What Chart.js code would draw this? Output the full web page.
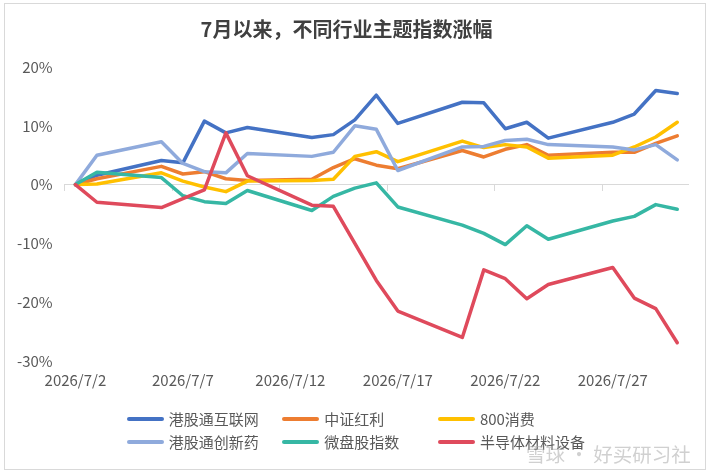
<!DOCTYPE html>
<html><head><meta charset="utf-8">
<script src="https://cdn.jsdelivr.net/npm/chart.js@4"></script>
<style>
html,body{margin:0;padding:0;background:#fff;}
#wrap{position:relative;width:712px;height:473px;overflow:hidden;background:#fff;}
#frame{position:absolute;left:4px;top:3px;width:700px;height:465px;border:1px solid #d9d9d9;pointer-events:none;}
#c{position:absolute;left:0;top:0;}
#legend{position:absolute;left:0;top:0;width:712px;height:473px;pointer-events:none;font-family:"Noto Sans CJK SC","Noto Sans",sans-serif;font-size:15px;color:#595959;}
.item{position:absolute;display:flex;align-items:center;height:22px;line-height:22px;white-space:nowrap;}
.swatch{width:37px;height:4px;border-radius:2px;margin-right:5px;}
#wm{position:absolute;left:526px;top:439px;font-family:"Noto Sans CJK SC",sans-serif;font-size:19.5px;color:rgba(170,170,170,0.55);pointer-events:none;white-space:nowrap;}
</style></head>
<body>
<div id="wrap">
<canvas id="c" width="712" height="473"></canvas>
<div id="legend"></div>
<div id="wm">雪球 · 好买研习社</div>
<div id="frame"></div>
</div>
<script>
// ---- data ----
const title = '7月以来，不同行业主题指数涨幅';
const month = '2026/7/';
const firstDay = 2, lastDay = 30;
const tradingDays = [2,3,6,7,8,9,10,13,14,15,16,17,20,21,22,23,24,27,28,29,30];
const seriesNames = ['港股通互联网','中证红利','800消费','港股通创新药','微盘股指数','半导体材料设备'];
const hkInternet = [0,1.6,4.1,3.7,10.8,8.8,9.7,8.0,8.5,11.0,15.2,10.4,14.0,13.9,9.5,10.6,7.9,10.6,12.0,16.0,15.5];
const csiDividend = [0,1.0,3.1,1.8,2.2,1.0,0.7,0.9,2.9,4.4,3.3,2.7,5.8,4.7,6.0,6.8,5.0,5.5,5.5,7.0,8.3];
const consumer800 = [0,0.1,2.0,0.6,-0.4,-1.2,0.6,0.7,0.9,4.8,5.6,3.9,7.4,6.3,6.8,6.4,4.5,5.0,6.4,8.1,10.6];
const hkInnovDrug = [0,5.0,7.3,3.6,2.2,2.0,5.3,4.8,5.5,10.0,9.4,2.4,6.4,6.5,7.5,7.7,6.8,6.4,5.9,6.8,4.2];
const microCap = [0,2.1,1.2,-1.9,-2.9,-3.2,-1.0,-4.4,-2.0,-0.6,0.3,-3.8,-6.9,-8.3,-10.2,-7.0,-9.3,-6.2,-5.4,-3.4,-4.2];
const semiMaterial = [0,-3.0,-3.9,-2.4,-0.9,8.8,1.5,-3.5,-3.7,-10.0,-16.3,-21.5,-26.0,-14.5,-16.0,-19.4,-17.0,-14.1,-19.3,-21.1,-26.9];
const yTicks = {min:-30, max:20, step:10};
const colors = ['#4472C4','#ED7D31','#FFC000','#8FAADC','#36B7A4','#DF4A5C'];

// ---- build table ----
const days = [];
for (let d = firstDay; d <= lastDay; d++) days.push(d);
const labels = days.map(d => month + d);
function toCalendar(vals){
  return days.map(d => { const i = tradingDays.indexOf(d); return i >= 0 ? vals[i] : null; });
}
const allSeries = [hkInternet, csiDividend, consumer800, hkInnovDrug, microCap, semiMaterial];
const datasets = allSeries.map((vals, i) => ({
  label: seriesNames[i],
  data: toCalendar(vals),
  borderColor: colors[i],
  backgroundColor: colors[i],
  borderWidth: 3.5,
  pointRadius: 0,
  pointHoverRadius: 0,
  tension: 0,
  spanGaps: true,
  borderJoinStyle: 'round',
  borderCapStyle: 'round',
  order: allSeries.length - 1 - i
}));

const font = '"Noto Sans CJK SC","Noto Sans",sans-serif';
const chart = new Chart(document.getElementById('c'), {
  type: 'line',
  data: { labels, datasets },
  options: {
    responsive: false,
    animation: false,
    devicePixelRatio: 1,
    layout: { padding: { left: 5, right: 24, top: 0, bottom: 74 } },
    plugins: {
      legend: { display: false },
      tooltip: { enabled: false },
      title: {
        display: true, text: title, color: '#404040',
        font: { family: font, size: 20, weight: 'bold' },
        padding: { top: 17, bottom: 26 }
      }
    },
    scales: {
      x: {
        type: 'category',
        position: { y: 0 },
        offset: true,
        ticks: { display: false },
        grid: {
          display: true, drawOnChartArea: false, drawTicks: true, tickLength: 6, offset: true,
          color: ctx => (ctx.index % 5 === 0 ? '#d9d9d9' : 'rgba(0,0,0,0)'), lineWidth: 1
        },
        border: { display: true, color: '#d9d9d9', width: 1 }
      },
      x2: {
        type: 'category',
        position: 'bottom',
        offset: true,
        grid: { display: false, drawTicks: false },
        border: { display: false },
        ticks: {
          autoSkip: false, maxRotation: 0, minRotation: 0, padding: 10,
          color: '#595959', font: { family: font, size: 15 },
          callback: (v, i) => (i % 5 === 0 ? labels[i] : '')
        }
      },
      y: {
        min: yTicks.min, max: yTicks.max,
        grid: { display: false, drawTicks: false },
        border: { display: false },
        ticks: {
          stepSize: yTicks.step, padding: 12, color: '#595959',
          font: { family: font, size: 15 },
          callback: v => v + '%'
        }
      }
    }
  }
});

// ---- HTML legend built from datasets ----
const lg = document.getElementById('legend');
chart.data.datasets.forEach((ds, i) => {
  const col = i % 3, row = Math.floor(i / 3);
  const el = document.createElement('div');
  el.className = 'item';
  el.style.left = (126.7 + col * 155.6) + 'px';
  el.style.top = (407.7 + row * 23.6) + 'px';
  const sw = document.createElement('span');
  sw.className = 'swatch';
  sw.style.background = ds.borderColor;
  const tx = document.createElement('span');
  tx.textContent = ds.label;
  el.appendChild(sw); el.appendChild(tx);
  lg.appendChild(el);
});
</script>
</body></html>
